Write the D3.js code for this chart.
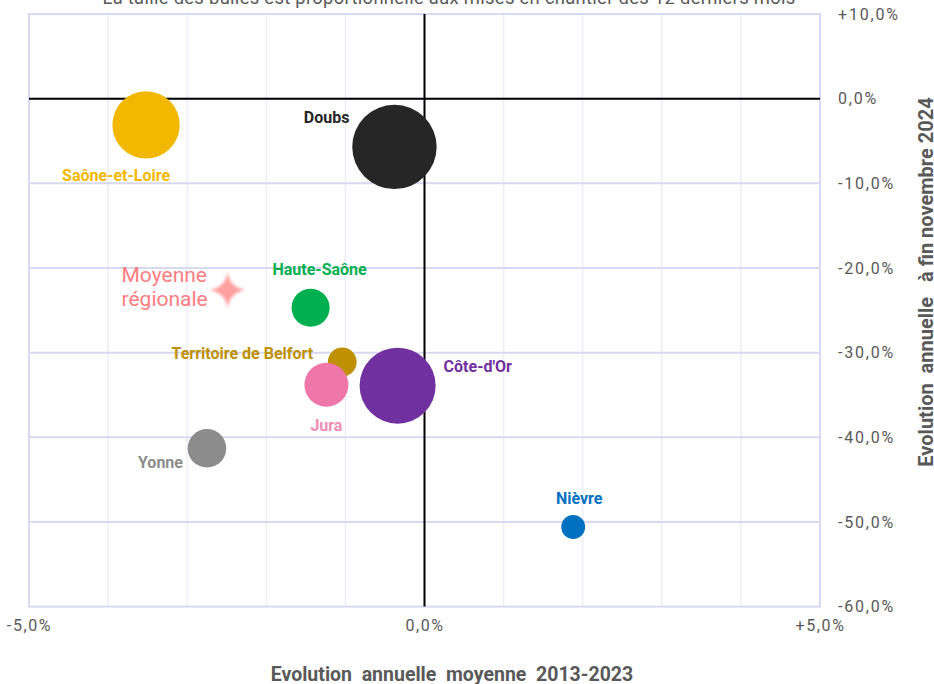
<!DOCTYPE html>
<html><head><meta charset="utf-8">
<script src="https://cdn.jsdelivr.net/npm/d3@7"></script>
<style>
html,body{margin:0;padding:0;background:#fff;}
svg{display:block;font-family:Roboto,"Noto Sans",sans-serif;}
</style></head>
<body><svg id="c" width="934" height="684"></svg>
<script>
// ---- data ----
const departements = ["Saône-et-Loire","Doubs","Haute-Saône","Territoire de Belfort","Jura","Côte-d'Or","Yonne","Nièvre"];
const evolMoyenne = [-3.52,-0.38,-1.44,-1.04,-1.24,-0.34,-2.75,1.88];      // % 2013-2023
const evolAnnuelle = [-3.1,-5.7,-24.7,-31.1,-33.8,-33.9,-41.3,-50.6];     // % fin nov. 2024
const misesChantier = [1420,2230,455,260,605,1810,465,178];               // 12 derniers mois
const moyenneRegionale = {x:-2.49, y:-22.6};
const xTicks = [-5,0,5];
const yTicks = [10,0,-10,-20,-30,-40,-50,-60];

const colors = {"Saône-et-Loire":"#f2b800","Doubs":"#262626","Haute-Saône":"#00b050","Territoire de Belfort":"#bf9000","Jura":"#f075a8","Côte-d'Or":"#7030a0","Yonne":"#8c8c8c","Nièvre":"#0070c0"};
const labelColors = {"Saône-et-Loire":"#f2b800","Doubs":"#262626","Haute-Saône":"#00b050","Territoire de Belfort":"#bf9000","Jura":"#f08cb4","Côte-d'Or":"#7030a0","Yonne":"#8c8c8c","Nièvre":"#0070c0"};
// label placement: [dx, dy, anchor]
const labelPlace = {"Saône-et-Loire":[-30,50,"middle"],"Doubs":[-45,-30,"end"],"Haute-Saône":[9,-38,"middle"],"Territoire de Belfort":[-29,-9,"end"],"Jura":[0,41,"middle"],"Côte-d'Or":[46,-19,"start"],"Yonne":[-24,14,"end"],"Nièvre":[6,-29,"middle"]};

const svg = d3.select("#c");
const L=29,R=820,T=14,B=606.6;
const x = d3.scaleLinear().domain([-5,5]).range([L,R]);
const y = d3.scaleLinear().domain([10,-60]).range([T,B]);
const r = d3.scaleSqrt().domain([0,2230]).range([0,42.2]);

const defs = svg.append("defs");
defs.append("filter").attr("id","blur").attr("x","-50%").attr("y","-50%").attr("width","200%").attr("height","200%")
  .append("feGaussianBlur").attr("stdDeviation",1.4);

// gridlines
svg.append("g").selectAll("line").data(d3.range(-4,5)).join("line")
  .attr("x1",d=>x(d)).attr("x2",d=>x(d)).attr("y1",T).attr("y2",B)
  .attr("stroke","#ededf8").attr("stroke-width",1.5);
svg.append("g").selectAll("line").data(d3.range(-50,10,10)).join("line")
  .attr("y1",d=>y(d)).attr("y2",d=>y(d)).attr("x1",L).attr("x2",R)
  .attr("stroke","#d6d9f1").attr("stroke-width",2);
// frame
svg.append("rect").attr("x",L).attr("y",T).attr("width",R-L).attr("height",B-T)
  .attr("fill","none").attr("stroke","#d6d9f1").attr("stroke-width",2);
// zero lines
svg.append("line").attr("x1",L).attr("x2",R).attr("y1",y(0)).attr("y2",y(0)).attr("stroke","#000").attr("stroke-width",2);
svg.append("line").attr("x1",x(0)).attr("x2",x(0)).attr("y1",T).attr("y2",B).attr("stroke","#000").attr("stroke-width",2);

const fmt = v => (v>0?"+":"") + d3.format(".1f")(v).replace(".",",").replace("−","-") + "%";

// y ticks (right)
const yAxis = d3.axisRight(y).tickValues(yTicks).tickSize(0).tickPadding(0).tickFormat(fmt);
const gy = svg.append("g").attr("transform",`translate(${R+18},0)`).call(yAxis);
gy.select(".domain").remove();
gy.selectAll("text").attr("fill","#595959").attr("font-size",16).attr("letter-spacing","1.8px").attr("font-family","Roboto");

// x ticks
const xAxis = d3.axisBottom(x).tickValues(xTicks).tickSize(0).tickPadding(0).tickFormat(fmt);
const gx = svg.append("g").attr("transform",`translate(0,${B+13})`).call(xAxis);
gx.select(".domain").remove();
gx.selectAll("text").attr("fill","#595959").attr("font-size",16).attr("letter-spacing","1.6px").attr("font-family","Roboto").attr("dy","0.71em");

// titles
svg.append("text").attr("x",449).attr("y",3.5).attr("text-anchor","middle").attr("fill","#595959")
  .attr("font-size",18.4).attr("letter-spacing","0.3px").text("La taille des bulles est proportionnelle aux mises en chantier des 12 derniers mois");
svg.append("text").attr("x",452).attr("y",681).attr("text-anchor","middle").attr("fill","#595959")
  .attr("font-size",19.5).attr("font-weight","bold").attr("xml:space","preserve")
  .text("Evolution  annuelle  moyenne  2013-2023");
svg.append("text").attr("transform","translate(933,282) rotate(-90)").attr("text-anchor","middle").attr("fill","#595959")
  .attr("font-size",20).attr("font-weight","bold").attr("xml:space","preserve")
  .text("Evolution  annuelle   à fin novembre 2024");

// bubbles
const data = departements.map((d,i)=>({name:d,x:evolMoyenne[i],y:evolAnnuelle[i],v:misesChantier[i]}));
svg.append("g").selectAll("circle").data(data).join("circle")
  .attr("cx",d=>x(d.x)).attr("cy",d=>y(d.y)).attr("r",d=>r(d.v)).attr("fill",d=>colors[d.name]);
svg.append("g").selectAll("text").data(data).join("text")
  .attr("x",d=>x(d.x)+labelPlace[d.name][0]).attr("y",d=>y(d.y)+labelPlace[d.name][1])
  .attr("text-anchor",d=>labelPlace[d.name][2]).attr("dy","0.35em")
  .attr("fill",d=>labelColors[d.name]).attr("font-size",16).attr("font-weight","bold")
  .text(d=>d.name);

// moyenne régionale star
const star4 = {draw(ctx,size){const a=Math.sqrt(size)/2, b=a*0.12;
  ctx.moveTo(0,-a);ctx.quadraticCurveTo(b,-b,a,0);ctx.quadraticCurveTo(b,b,0,a);
  ctx.quadraticCurveTo(-b,b,-a,0);ctx.quadraticCurveTo(-b,-b,0,-a);ctx.closePath();}};
svg.append("path").attr("d",d3.symbol().type(star4).size(37*37)())
  .attr("transform",`translate(${x(moyenneRegionale.x)},${y(moyenneRegionale.y)})`)
  .attr("fill","#ff9090").attr("opacity",0.85).attr("filter","url(#blur)");
const mx = x(moyenneRegionale.x)-106;
const mt = svg.append("text").attr("y",y(moyenneRegionale.y)-15)
  .attr("fill","#ff7c80").attr("font-size",21);
mt.append("tspan").attr("x",mx).attr("dy","0.35em").text("Moyenne");
mt.append("tspan").attr("x",mx).attr("dy","1.15em").text("régionale");
</script></body></html>
